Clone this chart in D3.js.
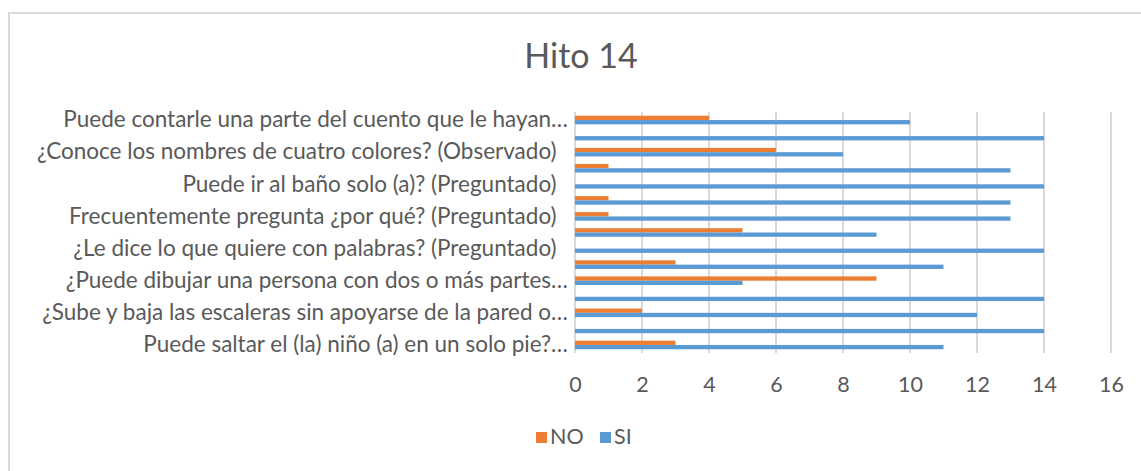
<!DOCTYPE html>
<html>
<head>
<meta charset="utf-8">
<script src="https://cdn.jsdelivr.net/npm/d3@7"></script>
<style>
  html, body { margin: 0; padding: 0; background: #fff; }
  svg text { font-family: Lato, "Open Sans", sans-serif; fill: #595959; }
  .cat-axis text { white-space: pre; }
</style>
</head>
<body>
<div id="app"></div>
<script>
/////////DATA///////////
// categories from top to bottom, as shown in the chart
// (full labels keep their trailing spaces from the sheet)
const categories = [
  'Puede contarle una parte del cuento que le hayan…',
  '¿Se viste solo (a)? (Preguntado)  ',
  '¿Conoce los nombres de cuatro colores? (Observado)  ',
  '¿Dice su nombre completo? (Preguntado)  ',
  'Puede ir al baño solo (a)? (Preguntado)  ',
  '¿Juega con otros niños? (Preguntado)  ',
  'Frecuentemente pregunta ¿por qué? (Preguntado)  ',
  '¿Copia un círculo? (Observado)  ',
  '¿Le dice lo que quiere con palabras? (Preguntado)  ',
  '¿Se lava y seca las manos solo (a)? (Preguntado)  ',
  '¿Puede dibujar una persona con dos o más partes…',
  '¿Come solo (a)? (Preguntado)  ',
  '¿Sube y baja las escaleras sin apoyarse de la pared o…',
  '¿Corre sin caerse? (Observado)  ',
  'Puede saltar el (la) niño (a) en un solo pie?…'
];
const noValues = [4, 0, 6, 1, 0, 1, 1, 5, 0, 3, 9, 0, 2, 0, 3];
const siValues = [10, 14, 8, 13, 14, 13, 13, 9, 14, 11, 5, 14, 12, 14, 11];
const seriesNames = ['NO', 'SI'];
const seriesColors = ['#ED7D31', '#5B9BD5'];
const xTicks = [0, 2, 4, 6, 8, 10, 12, 14, 16];
const title = 'Hito 14';

const rows = categories.map((c, i) => ({ cat: c, NO: noValues[i], SI: siValues[i] }));

/////////SVG///////////
const w = 1141, h = 471;
const svg = d3.select('#app').append('svg')
  .attr('width', w)
  .attr('height', h);

svg.append('rect')
  .attr('x', 9).attr('y', 13)
  .attr('width', 1150).attr('height', 470)
  .attr('fill', '#fff')
  .attr('stroke', '#d9d9d9')
  .attr('stroke-width', 2);

svg.append('text')
  .attr('x', 581).attr('y', 68)
  .attr('text-anchor', 'middle')
  .style('font-size', '34px')
  .text(title);

/////////SCALES///////////
const xScale = d3.scaleLinear().domain([0, 16]).range([575, 1111]);
const yScale = d3.scaleBand().domain(categories).range([112, 353]);
const inner = d3.scaleBand().domain(seriesNames).range([0, yScale.bandwidth()]).paddingOuter(0.87);
const color = d3.scaleOrdinal().domain(seriesNames).range(seriesColors);

// gridlines
svg.append('g')
  .selectAll('line')
  .data(xTicks)
  .join('line')
  .attr('x1', d => xScale(d)).attr('x2', d => xScale(d))
  .attr('y1', 112).attr('y2', 353)
  .attr('stroke', '#d9d9d9')
  .attr('stroke-width', 2);

/////////BARS///////////
svg.append('g')
  .selectAll('g')
  .data(rows)
  .join('g')
  .attr('transform', d => 'translate(0,' + yScale(d.cat) + ')')
  .selectAll('rect')
  .data(d => seriesNames.map(s => ({ key: s, value: d[s] })))
  .join('rect')
  .attr('x', xScale(0))
  .attr('y', d => inner(d.key))
  .attr('height', inner.bandwidth())
  .attr('width', d => xScale(d.value) - xScale(0))
  .attr('fill', d => color(d.key));

/////////AXES///////////
const xAxis = d3.axisBottom(xScale).tickValues(xTicks).tickSize(0).tickPadding(0);
const gx = svg.append('g')
  .attr('transform', 'translate(0,392)')
  .call(xAxis);
gx.select('.domain').remove();
gx.selectAll('text').attr('dy', 0).style('font-size', '21.5px');

// Excel shows every other category label
const yAxis = d3.axisLeft(yScale)
  .tickValues(categories.filter((c, i) => i % 2 === 0))
  .tickSize(0).tickPadding(7);
const gy = svg.append('g')
  .attr('class', 'cat-axis')
  .attr('transform', 'translate(' + xScale(0) + ',0)')
  .call(yAxis);
gy.select('.domain').remove();
gy.selectAll('text').style('font-size', '22.5px');

/////////LEGEND///////////
const legend = svg.append('g').attr('transform', 'translate(536,432)');
const item = legend.selectAll('g')
  .data(seriesNames)
  .join('g')
  .attr('transform', (d, i) => 'translate(' + (i * 64) + ',0)');
item.append('rect')
  .attr('width', 11).attr('height', 11)
  .attr('fill', d => color(d));
item.append('text')
  .attr('x', 14).attr('y', 12)
  .style('font-size', '21.5px')
  .text(d => d);
</script>
</body>
</html>
